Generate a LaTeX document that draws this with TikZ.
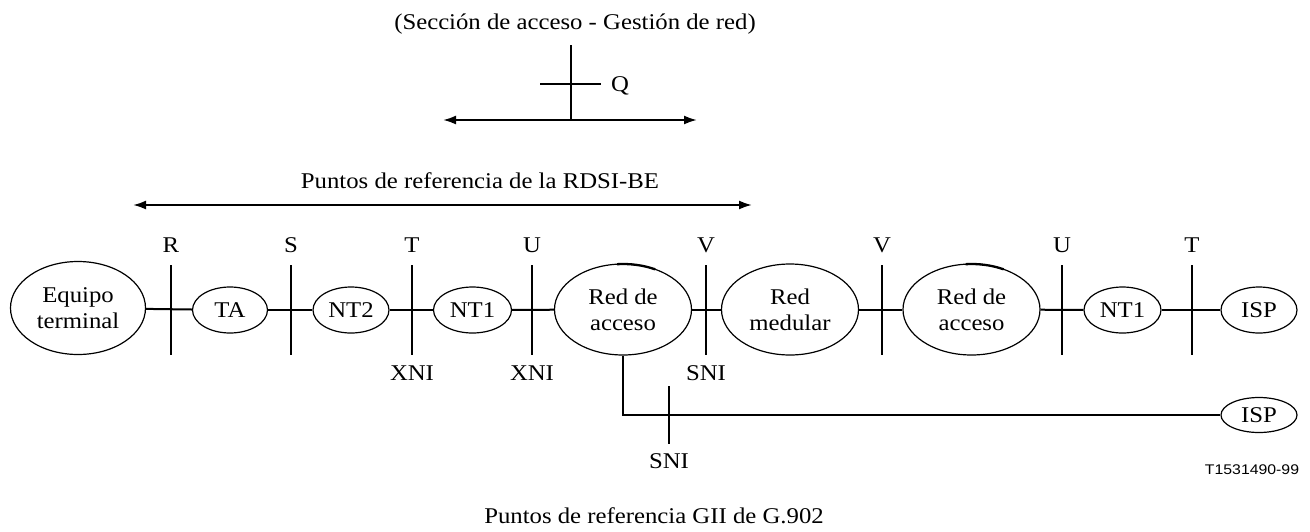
\documentclass[tikz,border=0pt]{standalone}
\usepackage{fontspec}
\setmainfont[FakeStretch=1.1]{Liberation Serif}
\newfontfamily\codefont[FakeStretch=1.13]{Liberation Sans}
\usetikzlibrary{shapes.geometric,arrows.meta}
\begin{document}
\begin{tikzpicture}[x=1pt,y=-1pt,
  font=\fontsize{22.5}{26}\selectfont,
  ent/.style={ellipse, draw, line width=1.2pt, inner sep=0pt, align=center},
  lbl/.style={inner sep=0pt, anchor=base},
  refline/.style={line width=2pt},
  conn/.style={line width=2pt},
  thin/.style={line width=1.5pt},
  dbl/.style={line width=2pt, {Latex[length=13pt,width=9pt]}-{Latex[length=13pt,width=9pt]}}
]
\useasboundingbox (0,0) rectangle (1310,531);

% top: management section
\node[lbl] (title) at (575,29) {(Sección de acceso - Gestión de red)};
\coordinate (qtop) at (571,45);
\coordinate (qbot) at (571,120);
\coordinate (qhl) at (540,84);
\coordinate (qhr) at (601,84);
\node[lbl] (qlab) at (620,91) {Q};
\coordinate (qal) at (443,120);
\coordinate (qar) at (697,120);
\draw[refline] (qtop) -- (qbot);
\draw[refline] (qhl) -- (qhr);
\draw[dbl] (qal) -- (qar);

% RDSI-BE range
\node[lbl] (rdsi) at (480,188) {Puntos de referencia de la RDSI-BE};
\coordinate (ral) at (133,205);
\coordinate (rar) at (752,205);
\draw[dbl] (ral) -- (rar);

% entities
\node[ent, minimum width=135, minimum height=93] (eq) at (78,308) {Equipo\\terminal};
\node[ent, minimum width=75, minimum height=46] (ta) at (230,310) {TA};
\node[ent, minimum width=76, minimum height=46] (nt2) at (351,310) {NT2};
\node[ent, minimum width=78, minimum height=46] (nt1a) at (472.5,310) {NT1};
\node[ent, minimum width=137, minimum height=91] (ra1) at (623,309.5) {Red de\\acceso};
\node[ent, minimum width=137, minimum height=91] (rm) at (790,309.5) {Red\\medular};
\node[ent, minimum width=137, minimum height=91] (ra2) at (971.5,309.5) {Red de\\acceso};
\node[ent, minimum width=77, minimum height=46] (nt1b) at (1122.5,310) {NT1};
\node[ent, minimum width=76, minimum height=46] (ispa) at (1259,310) {ISP};
\node[ent, minimum width=76, minimum height=35] (ispb) at (1259,415) {ISP};

% thick strokes at the top of the access networks
\draw[line width=2.3pt] (ra1.center) ++(-95:68.5 and 45.5) arc[start angle=-95, end angle=-62, x radius=68.5, y radius=45.5];
\draw[line width=2.3pt] (ra2.center) ++(-95:68.5 and 45.5) arc[start angle=-95, end angle=-62, x radius=68.5, y radius=45.5];

% main chain
\draw[conn] (eq) -- (ta);
\draw[conn] (ta) -- (nt2);
\draw[conn] (nt2) -- (nt1a);
\draw[conn] (nt1a) -- (ra1);
\draw[conn] (ra1) -- (rm);
\draw[conn] (rm) -- (ra2);
\draw[conn] (ra2) -- (nt1b);
\draw[conn] (nt1b) -- (ispa);

% reference points
\foreach \n/\x/\t in {r/171/R, s/291/S, ta/412/T, ua/532/U, va/706/V, vb/882/V, ub/1062/U, tb/1192/T}{
  \coordinate (p\n t) at (\x,265);
  \coordinate (p\n b) at (\x,355);
  \draw[refline] (p\n t) -- (p\n b);
  \node[lbl] (l\n) at (\x,252) {\t};
}
\node[lbl] (xni1) at (412,380) {XNI};
\node[lbl] (xni2) at (532,380) {XNI};
\node[lbl] (sni1) at (706,380) {SNI};

% branch to second ISP
\coordinate (bend) at (623,415);
\draw[thin] (ra1.south) -- (bend) -- (ispb.west);
\coordinate (snit) at (669,386);
\coordinate (snib) at (669,444);
\draw[refline] (snit) -- (snib);
\node[lbl] (sni2) at (669,468) {SNI};

\node[lbl, font=\codefont\fontsize{14}{16}\selectfont] (code) at (1252,474) {T1531490-99};
\node[lbl] (caption) at (654,523) {Puntos de referencia GII de G.902};
\end{tikzpicture}
\end{document}
